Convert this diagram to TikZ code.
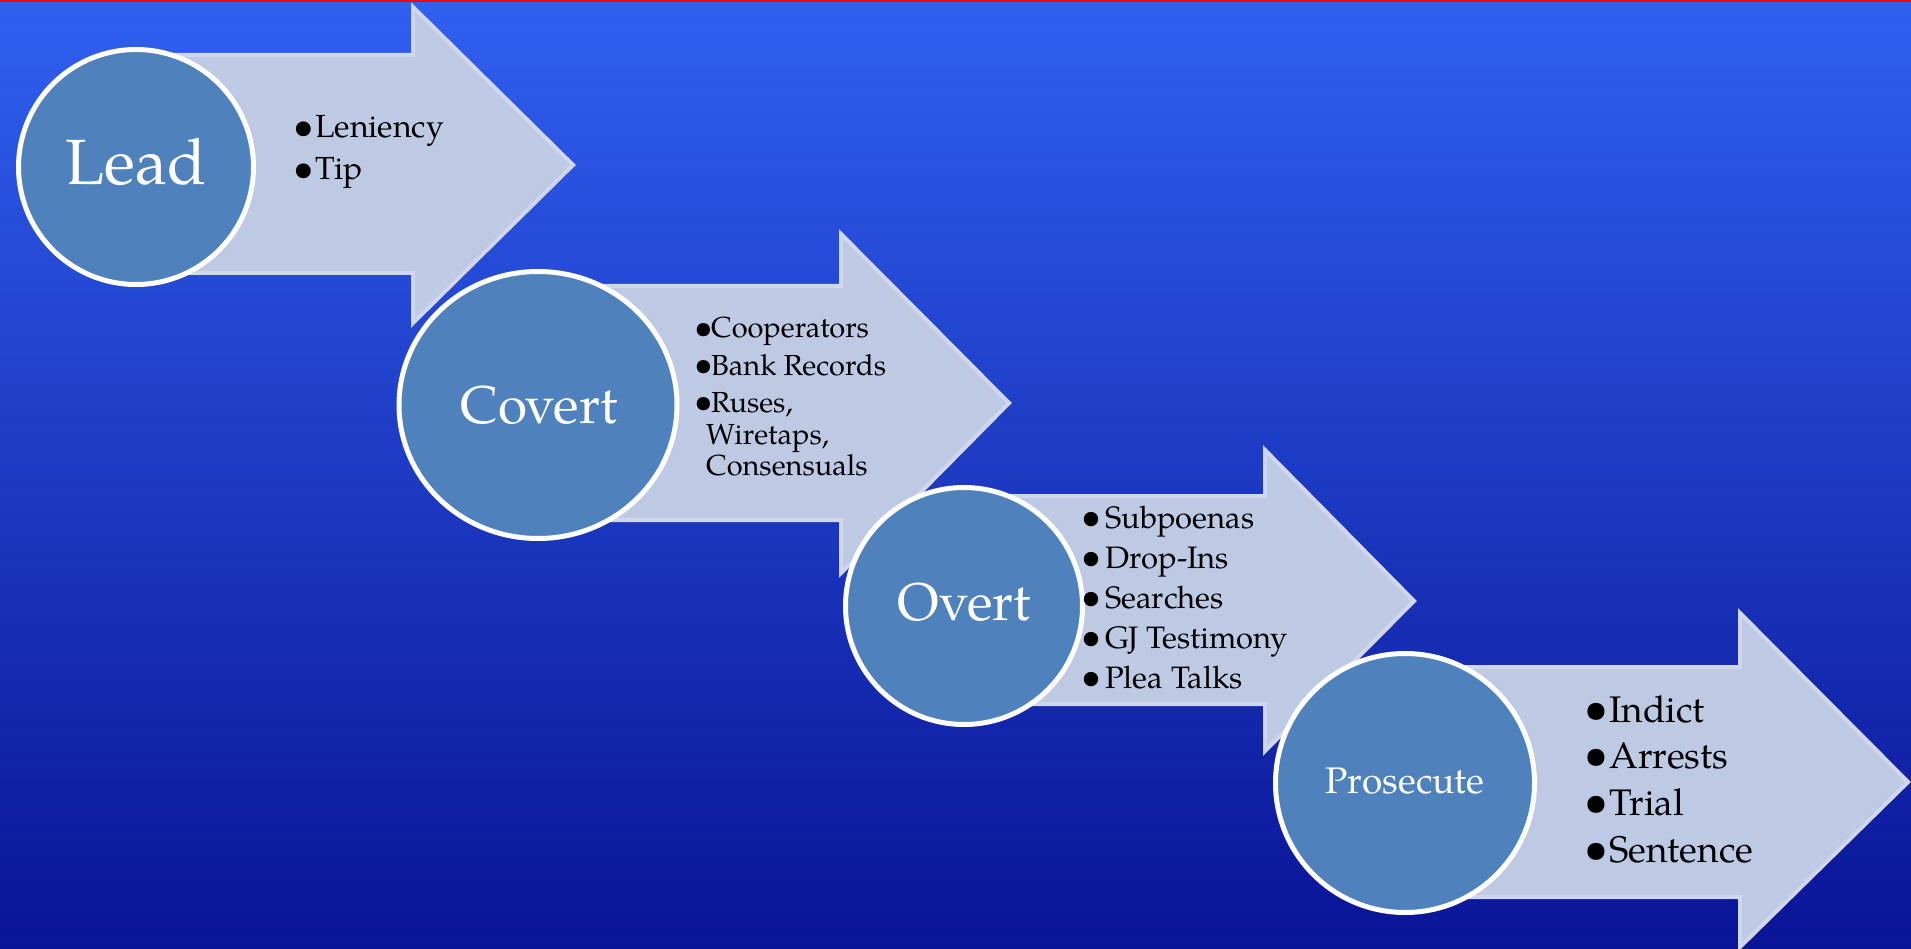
\documentclass[tikz,border=0pt]{standalone}
\usepackage{fontspec}
\usepackage{graphicx}
\setmainfont{TeX Gyre Pagella}
\usetikzlibrary{shapes.geometric}
\definecolor{bgtop}{RGB}{48,96,240}
\definecolor{bgbot}{RGB}{10,20,150}
\definecolor{arrowfill}{RGB}{190,201,228}
\definecolor{arrowline}{RGB}{208,215,236}
\definecolor{stagefill}{RGB}{79,129,189}
\definecolor{topline}{RGB}{255,0,0}
\newcommand{\mybullet}[1]{\makebox[#1][l]{\hspace{-0.1em}\raisebox{-0.02em}{\scalebox{1.15}{\textbullet}}}}
\begin{document}
\begin{tikzpicture}[x=1pt,y=-1pt,
  bigarrow/.style={fill=arrowfill, draw=arrowline, line width=4pt, line join=miter},
  stage/.style={ellipse, fill=stagefill, draw=white, line width=5pt, inner sep=0pt},
  stagelbl/.style={text=white, anchor=base, inner sep=0pt},
  item/.style={text=black, anchor=base west, inner sep=0pt},
]
\useasboundingbox (0,0) rectangle (1911,949);
\shade[top color=bgtop, bottom color=bgbot] (0,0) rectangle (1911,949);
\fill[topline] (0,0) rectangle (1911,2);

% Stage 1: Lead
\draw[bigarrow] (136,55) -- (413,55) -- (413,7) -- (573,165) -- (413,323) -- (413,273) -- (136,273) -- cycle;
\node[stage, minimum width=235pt, minimum height=235pt] (lead) at (136,167) {};
\node[stagelbl, font=\fontsize{64}{64}\selectfont] (leadlbl) at (136,185) {Lead};
\node[item, font=\fontsize{32}{32}\selectfont] (lead1) at (296,138) {\mybullet{19pt}Leniency};
\node[item, font=\fontsize{32}{32}\selectfont] (lead2) at (296,180) {\mybullet{19pt}Tip};

% Stage 2: Covert
\draw[bigarrow] (538,286) -- (841,286) -- (841,234) -- (1009,403) -- (841,573) -- (841,520) -- (538,520) -- cycle;
\node[stage, minimum width=278pt, minimum height=267pt] (covert) at (538,405) {};
\node[stagelbl, font=\fontsize{53}{53}\selectfont] (covertlbl) at (539,423) {Covert};
\node[item, font=\fontsize{29}{29}\selectfont] (cov1) at (697,338) {\mybullet{14pt}Cooperators};
\node[item, font=\fontsize{29}{29}\selectfont] (cov2) at (697,375) {\mybullet{14pt}Bank Records};
\node[item, font=\fontsize{29}{29}\selectfont] (cov3) at (697,412) {\mybullet{14pt}Ruses,};
\node[item, font=\fontsize{29}{29}\selectfont] (cov3b) at (706,444) {Wiretaps,};
\node[item, font=\fontsize{29}{29}\selectfont] (cov3c) at (706,475) {Consensuals};

% Stage 3: Overt
\draw[bigarrow] (964,496) -- (1265,496) -- (1265,450) -- (1414,601) -- (1265,751) -- (1265,704) -- (964,704) -- cycle;
\node[stage, minimum width=237pt, minimum height=237pt] (overt) at (964,606) {};
\node[stagelbl, font=\fontsize{53}{53}\selectfont] (overtlbl) at (964,620) {Overt};
\node[item, font=\fontsize{31}{31}\selectfont] (ov1) at (1084,528) {\mybullet{21pt}Subpoenas};
\node[item, font=\fontsize{31}{31}\selectfont] (ov2) at (1084,568) {\mybullet{21pt}Drop-Ins};
\node[item, font=\fontsize{31}{31}\selectfont] (ov3) at (1084,608) {\mybullet{21pt}Searches};
\node[item, font=\fontsize{31}{31}\selectfont] (ov4) at (1084,648) {\mybullet{21pt}GJ Testimony};
\node[item, font=\fontsize{31}{31}\selectfont] (ov5) at (1084,688) {\mybullet{21pt}Plea Talks};

% Stage 4: Prosecute
\draw[bigarrow] (1405,667) -- (1740,667) -- (1740,613) -- (1908,782) -- (1740,947) -- (1740,897) -- (1405,897) -- cycle;
\node[stage, minimum width=259pt, minimum height=259pt] (prosecute) at (1405,783) {};
\node[stagelbl, font=\fontsize{37}{37}\selectfont] (proslbl) at (1405,793) {Prosecute};
\node[item, font=\fontsize{37}{37}\selectfont] (pr1) at (1588,722) {\mybullet{21pt}Indict};
\node[item, font=\fontsize{37}{37}\selectfont] (pr2) at (1588,768) {\mybullet{21pt}Arrests};
\node[item, font=\fontsize{37}{37}\selectfont] (pr3) at (1588,815) {\mybullet{21pt}Trial};
\node[item, font=\fontsize{37}{37}\selectfont] (pr4) at (1588,862) {\mybullet{21pt}Sentence};
\end{tikzpicture}
\end{document}
